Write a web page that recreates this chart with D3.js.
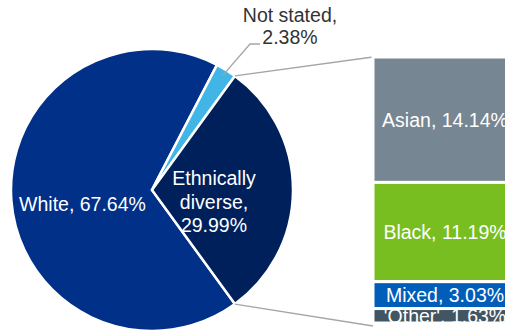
<!DOCTYPE html>
<html>
<head>
<meta charset="utf-8">
<script src="https://cdn.jsdelivr.net/npm/d3@7"></script>
<style>
  body { margin: 0; background: #fff; }
  svg { display: block; font-family: "Liberation Sans", Arial, sans-serif; }
</style>
</head>
<body>
<svg class="container" width="505" height="333"></svg>
<script>
let pieNames = ["White", "Not stated", "Ethnically diverse"];
let pieValues = [67.64, 2.38, 29.99];
let pieColors = ["#003087", "#41b6e6", "#00205c"];

let barNames = ["Asian", "Black", "Mixed", "'Other'"];
let barValues = [14.14, 11.19, 3.03, 1.63];
let barColors = ["#768692", "#78be20", "#005eb8", "#425563"];

let cx = 152, cy = 190, radius = 141;
let barX = 373, barW = 144, barTop = 57, barBottom = 323;
let fontSize = 19.5;

let svg = d3.select(".container");

// pie: keep the "diverse" slice centred on the right-hand side
let total = d3.sum(pieValues);
let diverseAngle = pieValues[2] / total * 2 * Math.PI;
let start = Math.PI / 2 + diverseAngle / 2;
let pie = d3.pie().sort(null).startAngle(start).endAngle(start + 2 * Math.PI);
let arcs = pie(pieValues);
let arc = d3.arc().innerRadius(0).outerRadius(radius);

let pieG = svg.append("g").attr("transform", `translate(${cx},${cy})`);

// connector lines from the diverse slice to the bar
let diverse = arcs[2];
function edgePoint(a) {
    return [cx + radius * Math.sin(a), cy - radius * Math.cos(a)];
}
let p1 = edgePoint(diverse.startAngle);
let p2 = edgePoint(diverse.endAngle);
let y = d3.scaleLinear().domain([0, d3.sum(barValues)]).range([barTop, barBottom]);

svg.append("line")
    .attr("x1", p1[0]).attr("y1", p1[1])
    .attr("x2", barX).attr("y2", y(0))
    .style("stroke", "#aaa3a3").style("stroke-width", 1.3);
svg.append("line")
    .attr("x1", p2[0]).attr("y1", p2[1])
    .attr("x2", barX).attr("y2", y.range()[1] + 3)
    .style("stroke", "#aaa3a3").style("stroke-width", 1.3);

pieG.selectAll("path")
    .data(arcs)
    .enter()
    .append("path")
    .attr("d", arc)
    .attr("fill", (d, i) => pieColors[i])
    .style("stroke", "#fff")
    .style("stroke-width", 2.5);

// pie labels
svg.append("text")
    .attr("x", 82.5).attr("y", 211)
    .attr("text-anchor", "middle")
    .attr("fill", "#fff")
    .style("font-size", fontSize + "px")
    .text(pieNames[0] + ", " + pieValues[0].toFixed(2) + "%");

let divLines = ["Ethnically", "diverse,", pieValues[2].toFixed(2) + "%"];
svg.append("text")
    .attr("text-anchor", "middle")
    .attr("fill", "#fff")
    .style("font-size", fontSize + "px")
    .selectAll("tspan")
    .data(divLines)
    .enter()
    .append("tspan")
    .attr("x", 214)
    .attr("y", (d, i) => 185 + i * 23.5)
    .text(d => d);

// not stated label with leader
let nsArc = arcs[1];
let nsMid = (nsArc.startAngle + nsArc.endAngle) / 2;
let nsP = [cx + (radius - 6) * Math.sin(nsMid), cy - (radius - 6) * Math.cos(nsMid)];
svg.append("polyline")
    .attr("points", [nsP, [250, 44], [260, 44]].map(p => p.join(",")).join(" "))
    .style("fill", "none")
    .style("stroke", "#aaa3a3")
    .style("stroke-width", 1.3);
svg.append("text")
    .attr("text-anchor", "middle")
    .attr("fill", "#333")
    .style("font-size", fontSize + "px")
    .selectAll("tspan")
    .data([pieNames[1] + ",", pieValues[1].toFixed(2) + "%"])
    .enter()
    .append("tspan")
    .attr("x", 290)
    .attr("y", (d, i) => 22 + i * 21.5)
    .text(d => d);

// stacked bar of the diverse breakdown
let stacked = [];
let acc = 0;
barValues.forEach((v, i) => {
    stacked.push({ name: barNames[i], value: v, y0: acc, y1: acc + v, color: barColors[i], id: "seg" + i });
    acc += v;
});

let defs = svg.append("defs");
defs.selectAll("clipPath")
    .data(stacked)
    .enter()
    .append("clipPath")
    .attr("id", d => d.id)
    .append("rect")
    .attr("x", barX)
    .attr("y", d => y(d.y0))
    .attr("width", barW)
    .attr("height", d => y(d.y1) - y(d.y0));

let seg = svg.selectAll("g.seg")
    .data(stacked)
    .enter()
    .append("g")
    .attr("class", "seg");

seg.append("rect")
    .attr("x", barX)
    .attr("y", d => y(d.y0))
    .attr("width", barW)
    .attr("height", d => y(d.y1) - y(d.y0))
    .attr("fill", d => d.color)
    .style("stroke", "#fff")
    .style("stroke-width", 3);

seg.append("text")
    .attr("clip-path", d => `url(#${d.id})`)
    .attr("x", barX + barW / 2)
    .attr("y", d => (y(d.y0) + y(d.y1)) / 2)
    .attr("dy", "0.36em")
    .attr("text-anchor", "middle")
    .attr("fill", "#fff")
    .style("font-size", fontSize + "px")
    .text(d => d.name + ", " + d.value.toFixed(2) + "%");
</script>
</body>
</html>
